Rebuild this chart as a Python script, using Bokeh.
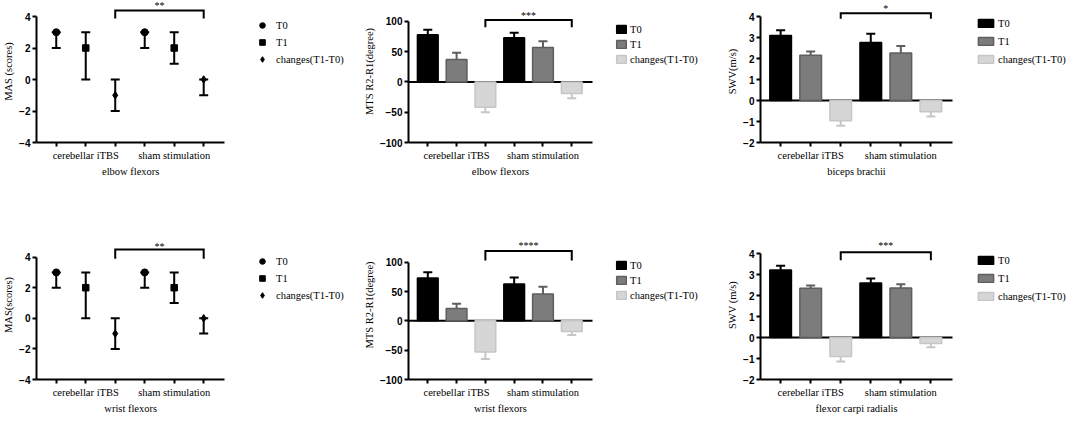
from bokeh.plotting import figure
from bokeh.models import Range1d, FixedTicker, Legend, LegendItem, LinearAxis
from bokeh.layouts import row, column
from bokeh.core.properties import value
from bokeh.embed import file_html
from bokeh.resources import INLINE

# ---------------- data ----------------
groups = ["cerebellar iTBS", "sham stimulation"]
series = ["T0", "T1", "changes(T1-T0)"]
# order of every value list: iTBS T0, iTBS T1, iTBS change, sham T0, sham T1, sham change

# MAS: median with range (low / high)
mas_elbow_mid = [3, 2, -1, 3, 2, 0]
mas_elbow_lo = [2, 0, -2, 2, 1, -1]
mas_elbow_hi = [3, 3, 0, 3, 3, 0]
mas_wrist_mid = [3, 2, -1, 3, 2, 0]
mas_wrist_lo = [2, 0, -2, 2, 1, -1]
mas_wrist_hi = [3, 3, 0, 3, 3, 0]

# MTS R2-R1 (degree): mean and SD
mts_elbow_mean = [78, 37, -42, 73, 57, -19]
mts_elbow_sd = [8, 11, 8, 8, 10, 8]
mts_wrist_mean = [73, 21, -53, 63, 46, -18]
mts_wrist_sd = [10, 8, 12, 11, 12, 6]

# SWV (m/s): mean and SD
swv_bb_mean = [3.10, 2.15, -0.97, 2.76, 2.26, -0.53]
swv_bb_sd = [0.24, 0.18, 0.23, 0.42, 0.33, 0.23]
swv_fcr_mean = [3.22, 2.35, -0.91, 2.60, 2.36, -0.29]
swv_fcr_sd = [0.20, 0.13, 0.23, 0.21, 0.18, 0.18]

mas_ticks = [-4, -2, 0, 2, 4]
mts_ticks = [-100, -50, 0, 50, 100]
swv_ticks = [-2, -1, 0, 1, 2, 3, 4]

sig_labels = ["**", "***", "*", "**", "****", "***"]
muscles = ["elbow flexors", "elbow flexors", "biceps brachii",
           "wrist flexors", "wrist flexors", "flexor carpi radialis"]
ylabels = ["MAS (scores)", "MTS R2-R1(degree)", "SWV(m/s)",
           "MAS(scores)", "MTS R2-R1(degree)", "SWV (m/s)"]

# ---------------- styling ----------------
H1, H2 = 190, 228
XMIN, XMAX = -0.67, 5.72
SERIF = "Liberation Serif"
SANS = "Liberation Sans"
FILL = ["#000000", "#7c7c7c", "#d6d6d6"]
EDGE = ["#000000", "#5e5e5e", "#c6c6c6"]
ERR = ["#000000", "#5e5e5e", "#c6c6c6"]
MARKERS = ["circle", "square", "diamond"]
MSIZE = [7, 6.5, 7.5]

xs = [g * 3 + s for g in range(len(groups)) for s in range(len(series))]
sidx = [s for g in range(len(groups)) for s in range(len(series))]


def base_fig(width, H, L, W, T, A, B, ticks, ylabel, xlabel):
    ymin, ymax = ticks[0], ticks[-1]
    upp = (ymax - ymin) / (B - A)
    y_end = ymax + (A - T) * upp
    x_end = XMIN + (width - L) * (XMAX - XMIN) / W
    p = figure(width=width, height=H, output_backend="svg", toolbar_location=None,
               x_range=Range1d(XMIN, x_end), y_range=Range1d(ymin, y_end),
               min_border_left=L, min_border_right=0,
               min_border_top=T, min_border_bottom=H - B,
               outline_line_color=None, background_fill_color="white",
               border_fill_color="white")
    p.grid.visible = False
    for ax in (p.xaxis[0], p.yaxis[0]):
        ax.axis_line_width = 2
        ax.axis_line_color = "black"
        ax.major_tick_line_width = 2
        ax.major_tick_line_color = "black"
        ax.major_tick_out = 4
        ax.major_tick_in = 0
        ax.minor_tick_line_color = None
        ax.axis_label_text_font = SERIF
        ax.axis_label_text_font_style = "normal"
        ax.axis_label_text_font_size = "10.5px"
        ax.axis_label_text_color = "black"
        ax.major_label_text_color = "black"
    ya = p.yaxis[0]
    ya.ticker = FixedTicker(ticks=ticks)
    ya.bounds = (ymin, ymax)
    ya.major_label_text_font = SANS
    ya.major_label_text_font_style = "bold"
    ya.major_label_text_font_size = "10px"
    ya.major_label_standoff = 2
    ya.axis_label = ylabel
    ya.axis_label_standoff = 2
    xa = p.xaxis[0]
    xa.ticker = FixedTicker(ticks=xs)
    xa.bounds = (XMIN, XMAX)
    overrides = {x: "" for x in xs}
    for g, name in enumerate(groups):
        overrides[xs[g * 3 + 1]] = name
    xa.major_label_overrides = overrides
    xa.major_label_text_font = SERIF
    xa.major_label_text_font_size = "10.5px"
    xa.major_label_standoff = 3
    # muscle name centred under the x-axis extent (second, line-less axis)
    xc = round((XMIN + XMAX) / 2, 3)
    ax2 = LinearAxis(ticker=FixedTicker(ticks=[xc]), major_label_overrides={xc: xlabel},
                     axis_line_color=None, major_tick_line_color=None,
                     minor_tick_line_color=None, major_tick_out=0, major_tick_in=0,
                     major_label_standoff=2, major_label_text_font=SERIF,
                     major_label_text_font_size="10.5px", major_label_text_color="black")
    p.add_layout(ax2, "below")

    def py(px):
        return ymax + (A - px) * upp
    return p, py


def add_bracket(p, py, label, br, drop, st):
    xa_, xb_ = xs[2], xs[5]
    p.line([xa_, xa_, xb_, xb_], [py(drop), py(br), py(br), py(drop)],
           line_width=2, line_color="black", line_join="miter")
    p.text(x=[(xa_ + xb_) / 2], y=[py(st + 2)], text=[label], text_align="center",
           text_baseline="middle", text_font=value(SERIF), text_font_size="10px",
           text_color="black")


def add_legend(p, renderers, vx, vy, gw, gh, spacing, standoff):
    items = [LegendItem(label=s, renderers=[r]) for s, r in zip(series, renderers)]
    lg = Legend(items=items, location=(vx, vy), orientation="vertical",
                glyph_width=gw, glyph_height=gh, label_height=12, label_width=10,
                spacing=spacing, padding=0, margin=0, label_standoff=standoff,
                border_line_color=None, background_fill_alpha=0,
                label_text_font=SERIF, label_text_font_size="10.5px",
                label_text_color="black")
    p.add_layout(lg)


def mas_panel(width, H, L, W, T, A, B, mid, lo, hi, ylabel, xlabel, sig, br, drop, st, vx, vy):
    p, py = base_fig(width, H, L, W, T, A, B, mas_ticks, ylabel, xlabel)
    p.segment(x0=xs, y0=lo, x1=xs, y1=hi, line_width=2, line_color="black")
    p.scatter(x=xs + xs, y=lo + hi, marker="dash", size=9, line_width=2, line_color="black")
    rends = []
    for s in range(len(series)):
        px = [x for x, k in zip(xs, sidx) if k == s]
        pv = [v for v, k in zip(mid, sidx) if k == s]
        r = p.scatter(x=px, y=pv, marker=MARKERS[s], size=MSIZE[s],
                      fill_color="black", line_color="black")
        rends.append(r)
    add_bracket(p, py, sig, br, drop, st)
    add_legend(p, rends, vx, vy, 14, 14, 3, 7)
    return p


def bar_panel(width, H, L, W, T, A, B, ticks, mean, sd, ylabel, xlabel, sig, br, drop, st,
              vx, vy, gw, gh, spacing, standoff):
    p, py = base_fig(width, H, L, W, T, A, B, ticks, ylabel, xlabel)
    # zero baseline along the x axis extent
    p.segment(x0=[XMIN], y0=[0], x1=[XMAX], y1=[0], line_color="black", line_width=2)
    rends = []
    for s in range(len(series)):
        px = [x for x, k in zip(xs, sidx) if k == s]
        pm = [v for v, k in zip(mean, sidx) if k == s]
        psd = [v for v, k in zip(sd, sidx) if k == s]
        ends = [m + (d if m >= 0 else -d) for m, d in zip(pm, psd)]
        p.segment(x0=px, y0=pm, x1=px, y1=ends, line_width=2, line_color=ERR[s])
        p.scatter(x=px, y=ends, marker="dash", size=9, line_width=2, line_color=ERR[s])
        r = p.vbar(x=px, top=pm, bottom=0, width=0.72, fill_color=FILL[s],
                   line_color=EDGE[s], line_width=1.5)
        rends.append(r)
    add_bracket(p, py, sig, br, drop, st)
    add_legend(p, rends, vx, vy, gw, gh, spacing, standoff)
    return p


# top row
f1 = mas_panel(352, H1, 30, 192, 0, 16, 142, mas_elbow_mid, mas_elbow_lo, mas_elbow_hi,
               ylabels[0], muscles[0], sig_labels[0], 10, 18, 3, 219, 76)
f2 = bar_panel(360, H1, 56, 184, 0, 21, 143, mts_ticks, mts_elbow_mean, mts_elbow_sd,
               ylabels[1], muscles[1], sig_labels[1], 19.6, 27, 13, 207, 77, 12, 10, 3, 3)
f3 = bar_panel(356, H1, 48, 192, 0, 16, 142, swv_ticks, swv_bb_mean, swv_bb_sd,
               ylabels[2], muscles[2], sig_labels[2], 12.7, 18.3, 6, 216, 77, 19, 10, 6, 3)
# bottom row
f4 = mas_panel(352, H2, 30, 192, 40, 67.3, 193, mas_wrist_mid, mas_wrist_lo, mas_wrist_hi,
               ylabels[3], muscles[3], sig_labels[3], 59.6, 69, 54, 219, 77)
f5 = bar_panel(360, H2, 56, 184, 40, 73, 195, mts_ticks, mts_wrist_mean, mts_wrist_sd,
               ylabels[4], muscles[4], sig_labels[4], 61.3, 71.3, 54, 207, 78, 12, 10, 3, 3)
f6 = bar_panel(356, H2, 48, 192, 40, 63, 189, swv_ticks, swv_fcr_mean, swv_fcr_sd,
               ylabels[5], muscles[5], sig_labels[5], 61.7, 69.7, 53, 216, 77, 19, 10, 6, 3)

layout = column(row(f1, f2, f3), row(f4, f5, f6))
open("out.html", "w").write(file_html(layout, INLINE))
